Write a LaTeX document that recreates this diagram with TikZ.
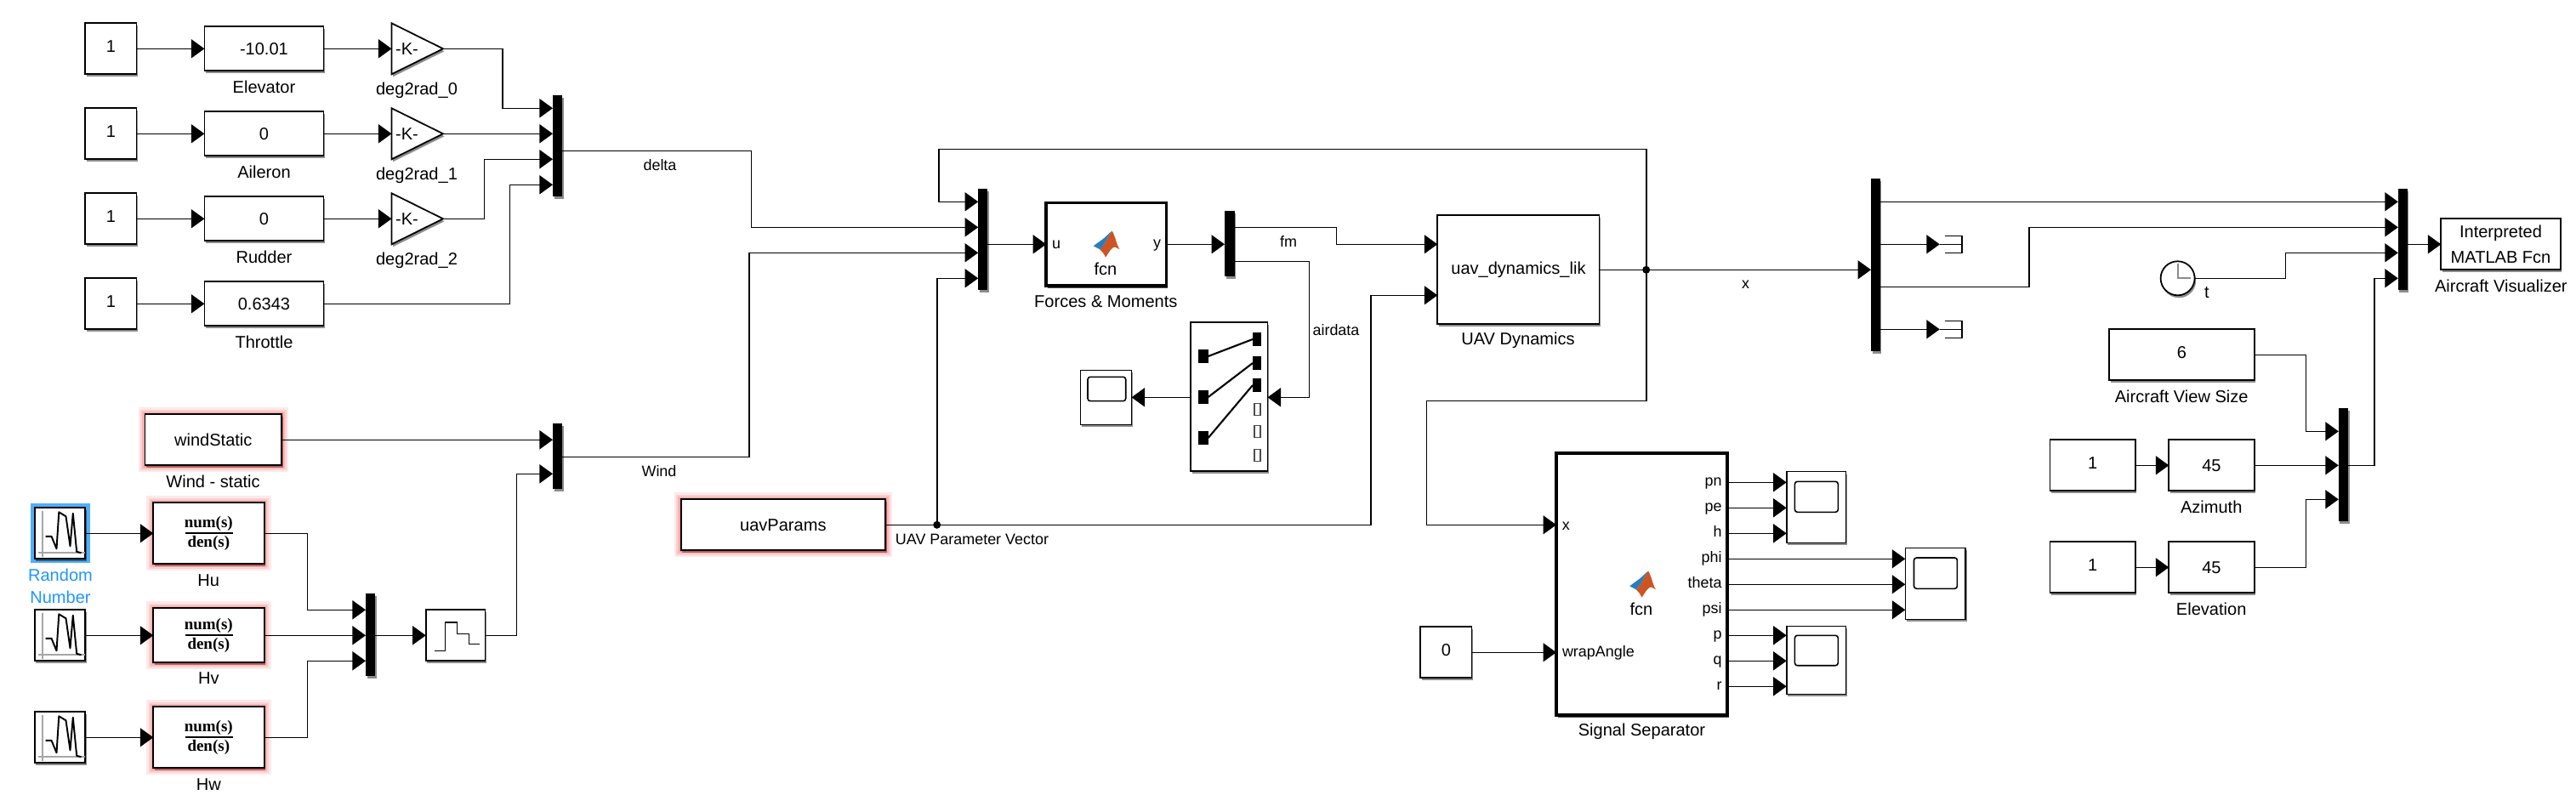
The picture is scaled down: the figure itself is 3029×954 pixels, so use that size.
\documentclass[tikz,border=0pt]{standalone}
\usepackage{fontspec}
\setmainfont{Liberation Sans}
\newfontfamily\tffont{Liberation Serif}
\usetikzlibrary{arrows.meta,shadows,calc}
\definecolor{glowred}{RGB}{240,40,40}
\definecolor{selblue}{RGB}{80,175,250}
\definecolor{seltext}{RGB}{30,150,255}
\definecolor{mlorange}{RGB}{205,85,35}
\definecolor{mlblue}{RGB}{40,125,190}
\tikzset{
  every node/.style={font=\fontsize{5.7}{7}\selectfont,inner sep=0pt,outer sep=0pt},
  small/.style={font=\fontsize{5.1}{6.5}\selectfont},
  shad/.style={drop shadow={shadow xshift=0.015cm,shadow yshift=-0.03cm,opacity=.45,fill=black}},
  blk/.style={draw=black,line width=.5pt,fill=white,shad,align=center},
  thickblk/.style={blk,line width=1pt},
  glow/.style={preaction={draw=glowred,draw opacity=.10,line width=.16cm},
    preaction={draw=glowred,draw opacity=.12,line width=.11cm},
    preaction={draw=glowred,draw opacity=.16,line width=.07cm},
    preaction={draw=glowred,draw opacity=.20,line width=.035cm}},
  constup/.style={text depth=.06cm},
  barb/.style={draw=none,fill=black,shad},
  wire/.style={line width=.45pt,-{Triangle[length=.155cm,width=.22cm]}},
  line/.style={line width=.45pt},
  tfnum/.style={font=\fontsize{5.4}{7}\selectfont\tffont\bfseries},
  swsq/.style={fill=black,draw=none},
  swempty/.style={draw=black!70,line width=.35pt,fill=white},
}
\newcommand\blk[7][]{\node[blk,#1,minimum width={(#4-#2)*0.01cm},minimum height={(#5-#3)*0.01cm}] (#6) at ({(#2+#4)/2},{(#3+#5)/2}) {#7};}
\newcommand\barb[5]{\node[barb,minimum width={(#3-#1)*0.01cm},minimum height={(#4-#2)*0.01cm}] (#5) at ({(#1+#3)/2},{(#2+#4)/2}) {};}
\newcommand\gainb[2]{%
  \path[blk] (460.5,#2-30) -- (521,#2) -- (460.5,#2+30) -- cycle;
  \coordinate (#1i) at (460.5,#2); \coordinate (#1o) at (521,#2);
  \node (#1t) at (478.5,#2) {-K-};}
\newcommand\randicon[2]{%
  \begin{scope}[shift={(#1,#2)}]
  \draw[black!35,line width=.5pt] (-20.5,-26) -- (-20.5,28) (-25.5,23) -- (29,23);
  \draw[line width=.55pt,line join=round] (-17,3.5) -- (-10,3.5) -- (-4,18) -- (-1.2,-25) -- (7,-20) -- (12,15) -- (15.3,-23.5) -- (19.7,21.5) -- (25,23);
  \end{scope}}
\newcommand\tfblk[4]{% name, top, bottom, centre
  \blk[glow]{180.3}{#2}{310.7}{#3}{#1}{}
  \node[tfnum] (#1n) at (245.3,#4-11.5) {num(s)};
  \node[tfnum] (#1d) at (245.3,#4+11.7) {den(s)};
  \draw[line width=.5pt] (217.5,#4) -- (273.5,#4);}
\newcommand\scp[9]{% x1 y1 x2 y2 name sx1 sy1 sx2 sy2
  \blk[line width=.45pt]{#1}{#2}{#3}{#4}{#5}{}
  \draw[line width=.45pt,rounded corners=.03cm] (#6,#7) rectangle (#8,#9);}
\newcommand\logo[2]{%
  \begin{scope}[shift={(#1,#2)}]
  \fill[mlorange] (6.7,-15.3) .. controls (11,-8) and (12,2) .. (15.7,6.3) -- (10,3.5) .. controls (6,3.5) and (3,10) .. (-1,15.7) .. controls (-3,11) and (-5,9) .. (-7.7,6.3) .. controls (-2,2) and (1,-9) .. cycle;
  \fill[mlblue] (-15.3,2.3) -- (-4,-6) .. controls (0,-9) and (3,-13) .. (6.7,-15.3) .. controls (1,-9) and (-2,2) .. (-7.7,6.3) -- cycle;
  \end{scope}}
\newcommand\term[2]{%
  \draw[line] (2286.7,#2-10) -- (2307,#2-10) -- (2307,#2+10) -- (2286.7,#2+10);
  \draw[line] (#1) -- (2307,#2);}
\begin{document}
\begin{tikzpicture}[x=0.01cm,y=-0.01cm]
\useasboundingbox (0,0) rectangle (3029,954);
\path[fill=white] (0,0) rectangle (3029,954);
% --- control inputs
\blk[constup]{100.3}{27.3}{160.4}{87.3}{c1}{1}
\blk[constup]{100.3}{127.3}{160.4}{187.3}{c2}{1}
\blk[constup]{100.3}{227.3}{160.4}{287.3}{c3}{1}
\blk[constup]{100.3}{327.3}{160.4}{387.3}{c4}{1}
\blk{240.4}{31.3}{380.5}{83.3}{e1}{-10.01}
\blk{240.4}{131.3}{380.5}{183.3}{e2}{0}
\blk{240.4}{231.3}{380.5}{283.3}{e3}{0}
\blk{240.4}{331.3}{380.5}{383.3}{e4}{0.6343}
\node (l1) at (310.5,102.3) {Elevator};
\node (l2) at (310.5,202.3) {Aileron};
\node (l3) at (310.5,302.3) {Rudder};
\node (l4) at (310.5,402.3) {Throttle};
\gainb{g1}{57.3}\gainb{g2}{157.3}\gainb{g3}{257.3}
\node (lg1) at (490,106.7) {deg2rad\_0};
\node (lg2) at (490,206.7) {deg2rad\_1};
\node (lg3) at (490,306.7) {deg2rad\_2};
\barb{650}{112}{661}{230.7}{m1}
\coordinate (m1a) at (650,127.3);\coordinate (m1b) at (650,157.3);\coordinate (m1c) at (650,187.3);\coordinate (m1d) at (650,217.3);\coordinate (m1o) at (661,177.3);
\draw[wire] (c1.east) -- (e1.west);
\draw[wire] (c2.east) -- (e2.west);
\draw[wire] (c3.east) -- (e3.west);
\draw[wire] (c4.east) -- (e4.west);
\draw[wire] (e1.east) -- (g1i);
\draw[wire] (e2.east) -- (g2i);
\draw[wire] (e3.east) -- (g3i);
\draw[wire] (g1o) -- ++(70,0) |- (m1a);
\draw[wire] (g2o) -- (m1b);
\draw[wire] (g3o) -- ++(48.5,0) |- (m1c);
\draw[wire] (e4.east) -- ++(219.1,0) |- (m1d);
% --- wind
\blk[glow]{170.6}{487.3}{331}{547.3}{ws}{windStatic}
\node (lws) at (250.6,566) {Wind - static};
\path[fill=selblue] (36,592) rectangle (106,661.7);
\blk{40.7}{597.3}{100.3}{657.3}{r1}{}
\blk{40.7}{717.3}{100.3}{777.3}{r2}{}
\blk{40.7}{837.3}{100.3}{897.3}{r3}{}
\randicon{70.5}{627.3}\randicon{70.5}{747.3}\randicon{70.5}{867.3}
\node[text=seltext] (lr1) at (71,676.7) {Random};
\node[text=seltext] (lr2) at (71,702.3) {Number};
\tfblk{hu}{591.3}{663.3}{627.3}
\tfblk{hv}{715.3}{779.3}{747.3}
\tfblk{hw}{831.3}{903.3}{867.3}
\node (lhu) at (245.3,682.3) {Hu};
\node (lhv) at (245.3,798) {Hv};
\node (lhw) at (245.3,922.3) {Hw};
\barb{430}{698.3}{441}{795}{m2}
\coordinate (m2a) at (430,717.3);\coordinate (m2b) at (430,747.3);\coordinate (m2c) at (430,777.3);\coordinate (m2o) at (441,747.3);
\blk{500.7}{717.3}{570.5}{777.3}{zoh}{}
\draw[line width=.45pt] (511.4,765.3) -- (523.5,765.3) -- (523.5,731.7) -- (537.6,731.7) -- (537.6,745.3) -- (551.6,745.3) -- (551.6,757.3) -- (563.7,757.3);
\barb{650}{498}{661}{575}{m3}
\coordinate (m3a) at (650,517.3);\coordinate (m3b) at (650,557.3);\coordinate (m3o) at (661,537.3);
\draw[wire] (ws.east) -- (ws.east -| m3a);
\draw[wire] (r1.east) -- (hu.west);
\draw[wire] (r2.east) -- (hv.west);
\draw[wire] (r3.east) -- (hw.west);
\draw[wire] (hu.east) -- ++(50.9,0) |- (m2a);
\draw[wire] (hv.east) -- (m2b);
\draw[wire] (hw.east) -- ++(50.9,0) |- (m2c);
\draw[wire] (m2o) -- (zoh.west);
\draw[wire] (zoh.east) -- ++(36.9,0) |- (m3b);
% --- forces
\barb{1150.2}{222}{1161.4}{341}{m4}
\coordinate (m4a) at (1150.2,237.3);\coordinate (m4b) at (1150.2,267.3);\coordinate (m4c) at (1150.2,297.3);\coordinate (m4d) at (1150.2,327.3);\coordinate (m4o) at (1161.4,287.3);
\draw[wire] (m1o) -- ++(222.6,0) |- (m4b);
\node[small] (ldelta) at (776,194) {delta};
\draw[wire] (m3o) -- ++(220,0) |- (m4c);
\node[small] (lwind) at (775,554) {Wind};
\blk[glow]{800.7}{587.3}{1041}{647.3}{up}{uavParams}
\node[small] (lup) at (1143,634) {UAV Parameter Vector};
\blk[thickblk]{1230.2}{238.6}{1371.7}{336}{fm}{}
\node[small] (fmu) at (1242,288) {u};
\node[small] (fmy) at (1360.6,289) {y};
\node (fmf) at (1300,316.7) {fcn};
\logo{1301}{287}
\node (lfm) at (1300.3,354.3) {Forces \& Moments};
\barb{1440}{248}{1451.7}{325}{m5}
\coordinate (m5o1) at (1451.7,267.3);\coordinate (m5o2) at (1451.7,307.3);\coordinate (m5i) at (1440,287.3);
\blk{1690.3}{253.3}{1880.6}{381.3}{ud}{uav\_dynamics\_lik}
\coordinate (udi1) at (1690.3,287.3);\coordinate (udi2) at (1690.3,347.3);\coordinate (udo) at (1880.6,317.3);
\node (lud) at (1785,400) {UAV Dynamics};
\draw[wire] (m4o) -- (fm.west);
\draw[wire] (fm.east) -- (m5i);
\draw[wire] (m5o1) -- ++(119.7,0) |- (udi1);
\node[small] (lfmw) at (1515,284.3) {fm};
% --- selector
\blk{1400.3}{378.7}{1490.5}{554.3}{sel}{}
\coordinate (selr) at (1490.5,467.3);\coordinate (sell) at (1400.3,467.3);
\foreach \y in {419,467,515} \path[swsq] (1409,\y-7.7) rectangle (1420.7,\y+7.7);
\foreach \y in {399,427,453} \path[swsq] (1473,\y-7.7) rectangle (1483.2,\y+7.7);
\foreach \y in {481.3,507.7,535.3} \path[swempty] (1475,\y-7) rectangle (1482,\y+7);
\draw[line width=.6pt] (1420.7,419) -- (1473,399) (1420.7,467) -- (1473,427) (1420.7,515) -- (1473,453);
\scp{1270.4}{435.3}{1330.5}{499.3}{sc0}{1279}{443.3}{1323.7}{471.7}
\coordinate (sc0r) at (1330.5,467.3);
\draw[wire] (sell) -- (sc0r);
\draw[wire] (m5o2) -- ++(87.6,0) |- (selr);
\node[small] (lair) at (1571,388.3) {airdata};
% --- signal separator
\blk[thickblk]{1830}{532.8}{2031}{841}{ss}{}
\coordinate (ssx) at (1830,617.3);\coordinate (ssw) at (1830,767.3);
\node[small] (ssxt) at (1841.4,618.7) {x};
\node[small,anchor=west] (sswt) at (1837,768) {wrapAngle};
\node (ssf) at (1930,716.7) {fcn};
\logo{1931.5}{687}
\node (lss) at (1930.5,860.7) {Signal Separator};
\blk[constup]{1670.3}{737.3}{1730.4}{797.3}{c0}{0}
\draw[wire] (c0.east) -- (ssw);
\foreach \n/\y/\t in {a/567.3/pn,b/597.3/pe,c/627.3/h,d/657.3/phi,e/687.3/theta,f/717.3/psi,g/747.3/p,h/777.3/q,i/807.3/r}{
  \coordinate (o\n) at (2031,\y);
  \node[small,anchor=east] (t\n) at (2024.6,\y) {\vphantom{pl}\t};
}
\scp{2100.7}{554.7}{2170.5}{638.3}{sa}{2110.4}{566.3}{2161.3}{602.3}
\scp{2240.3}{644.3}{2311}{728.3}{sb}{2250.5}{656}{2301.4}{692.3}
\scp{2100.7}{736.3}{2170.5}{816.3}{sc}{2110.4}{747.3}{2161.3}{782.7}
\draw[wire] (oa) -- (oa -| sa.west);
\draw[wire] (ob) -- (ob -| sa.west);
\draw[wire] (oc) -- (oc -| sa.west);
\draw[wire] (od) -- (od -| sb.west);
\draw[wire] (oe) -- (oe -| sb.west);
\draw[wire] (of) -- (of -| sb.west);
\draw[wire] (og) -- (og -| sc.west);
\draw[wire] (oh) -- (oh -| sc.west);
\draw[wire] (oi) -- (oi -| sc.west);
% --- parameter and state buses
\coordinate (jp) at (1101.7,617.3);
\coordinate (jx) at (1935.7,317.3);
\draw[line] (up.east |- jp) -- (jp);
\draw[wire] (jp) |- (m4d);
\draw[wire] (jp) -- ++(510,0) |- (udi2);
\fill (jp) circle (.045cm);
\draw[line] (udo) -- (jx);
\fill (jx) circle (.045cm);
\barb{2200}{210}{2210.8}{412.9}{m6}
\coordinate (m6i) at (2200,317.3);\coordinate (m6a) at (2210.8,237.3);\coordinate (m6b) at (2210.8,287.3);\coordinate (m6c) at (2210.8,337.3);\coordinate (m6d) at (2210.8,387.3);
\draw[wire] (jx) -- (m6i);
\node[small] (lx) at (2052.6,334.3) {x};
\draw[wire] (jx) |- (1103.7,175.3) |- (m4a);
\draw[wire] (jx) |- (1677.3,471.3) |- (ssx);
\draw[wire] (m6b) -- ++(70,0);
\coordinate (tm1) at (2280.8,287.3);\term{tm1}{287.3}
\draw[wire] (m6d) -- ++(70,0);
\coordinate (tm2) at (2280.8,387.3);\term{tm2}{387.3}
% --- visualiser
\barb{2819.8}{222.1}{2830.7}{341.4}{m7}
\coordinate (m7a) at (2819.8,237.3);\coordinate (m7b) at (2819.8,267.3);\coordinate (m7c) at (2819.8,297.3);\coordinate (m7d) at (2819.8,327.3);\coordinate (m7o) at (2830.7,287.3);
\blk{2870.3}{257.3}{3010.7}{317.3}{ifn}{Interpreted\\[1.3pt]MATLAB Fcn}
\node (lifn) at (2940.8,336) {Aircraft Visualizer};
\draw[wire] (m7o) -- (ifn.west);
\draw[wire] (m6a) -- (m7a);
\draw[wire] (m6c) -- ++(175,0) |- (m7b);
\node[blk,circle,minimum size=.4cm] (clk) at (2560.6,327.3) {};
\draw[black!45,line width=.5pt] (2560.6,310) -- (2560.6,327.3) -- (2576,327.3);
\node (lt) at (2595,344.3) {t};
\draw[wire] (clk.east) -- ++(106.7,0) |- (m7c);
\blk[constup]{2480.3}{387.3}{2650.6}{447.3}{vs}{6}
\node (lvs) at (2565.2,466) {Aircraft View Size};
\blk[constup]{2410.4}{517.3}{2510.7}{577.3}{c5}{1}
\blk{2550.3}{517.3}{2650.6}{577.3}{az}{45}
\node (laz) at (2600.2,596) {Azimuth};
\blk[constup]{2410.4}{637.3}{2510.7}{697.3}{c6}{1}
\blk{2550.3}{637.3}{2650.6}{697.3}{el}{45}
\node (lel) at (2600.2,716.4) {Elevation};
\barb{2749.8}{480}{2761.3}{612.9}{m8}
\coordinate (m8a) at (2749.8,507.3);\coordinate (m8b) at (2749.8,547.3);\coordinate (m8c) at (2749.8,587.3);\coordinate (m8o) at (2761.3,547.3);
\draw[wire] (c5.east) -- (az.west);
\draw[wire] (c6.east) -- (el.west);
\draw[wire] (vs.east) -- ++(60.8,0) |- (m8a);
\draw[wire] (az.east) -- (m8b);
\draw[wire] (el.east) -- ++(60.8,0) |- (m8c);
\draw[wire] (m8o) -- ++(30.4,0) |- (m7d);
\end{tikzpicture}
\end{document}
